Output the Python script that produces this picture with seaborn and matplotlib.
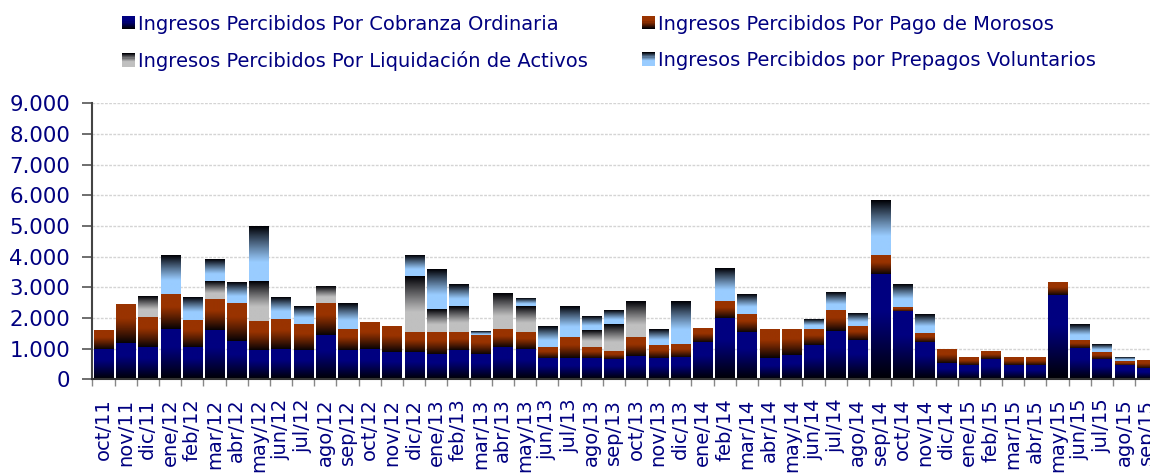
import numpy as np
import pandas as pd
import seaborn as sns
import matplotlib
matplotlib.use("Agg")
import matplotlib.pyplot as plt
from matplotlib.patches import Patch, Rectangle
from matplotlib.legend_handler import HandlerBase
from matplotlib.colors import to_rgb

# Months (Spanish abbreviations)
meses = ['oct/11', 'nov/11', 'dic/11',
         'ene/12', 'feb/12', 'mar/12', 'abr/12', 'may/12', 'jun/12', 'jul/12', 'ago/12', 'sep/12', 'oct/12', 'nov/12', 'dic/12',
         'ene/13', 'feb/13', 'mar/13', 'abr/13', 'may/13', 'jun/13', 'jul/13', 'ago/13', 'sep/13', 'oct/13', 'nov/13', 'dic/13',
         'ene/14', 'feb/14', 'mar/14', 'abr/14', 'may/14', 'jun/14', 'jul/14', 'ago/14', 'sep/14', 'oct/14', 'nov/14', 'dic/14',
         'ene/15', 'feb/15', 'mar/15', 'abr/15', 'may/15', 'jun/15', 'jul/15', 'ago/15', 'sep/15']

# Series values
cobranza = [957, 1152, 1033,
            1620, 1033, 1576, 1217, 924, 957, 924, 1413, 924, 957, 859, 859,
            793, 924, 793, 1033, 957, 663, 663, 663, 630, 728, 663, 696,
            1185, 1967, 1511, 663, 761, 1087, 1543, 1250, 3402, 2196, 1185, 500,
            435, 630, 435, 435, 2717, 989, 630, 435, 337]
morosos = [652, 1272, 1000,
           1163, 902, 1011, 1240, 978, 1010, 880, 1076, 685, 913, 880, 684,
           718, 619, 620, 608, 586, 359, 685, 391, 261, 620, 424, 424,
           489, 555, 619, 978, 848, 554, 685, 457, 620, 163, 326, 457,
           293, 261, 293, 293, 424, 261, 229, 163, 261]
liquidacion = [0, 0, 684,
               0, 0, 587, 0, 1272, 0, 0, 522, 0, 0, 0, 1794,
               782, 816, 0, 1142, 816, 0, 0, 522, 881, 1174, 0, 0,
               0, 0, 0, 0, 0, 0, 0, 0, 0, 0, 0, 0,
               0, 0, 0, 0, 0, 0, 0, 0, 0]
prepagos = [0, 0, 0,
            1271, 750, 750, 717, 1826, 685, 555, 0, 880, 0, 0, 717,
            1272, 750, 163, 0, 293, 717, 1011, 457, 489, 0, 522, 1434,
            0, 1108, 620, 0, 0, 326, 587, 456, 1826, 750, 587, 0,
            0, 0, 0, 0, 0, 554, 293, 130, 0]

series_names = ['Ingresos Percibidos Por Cobranza Ordinaria',
                'Ingresos Percibidos Por Pago de Morosos',
                'Ingresos Percibidos Por Liquidación de Activos',
                'Ingresos Percibidos por Prepagos Voluntarios']
series_values = [cobranza, morosos, liquidacion, prepagos]
# (bright colour, dark end on top?)
series_style = [('#000080', False), ('#993300', False), ('#C0C0C0', True), ('#99CCFF', True)]

text_color = '#000080'


def gradient(bright, dark_top, n=64):
    # t = 0 at bright end; solid for a while then fade to black
    b = np.array(to_rgb(bright))
    t = np.linspace(0, 1, n)
    f = np.clip((t - 0.35) / 0.65, 0, 1) ** 1.1
    cols = b[None, :] * (1 - f[:, None]) + np.array([0.0, 0.0, 0.02])[None, :] * f[:, None]
    if dark_top:
        cols = cols[::-1]      # top row dark
    return cols[:, None, :]    # otherwise top row = bright


sns.set_style("white")
fig = plt.figure(figsize=(11.5, 4.73), dpi=100)
ax = fig.add_axes([92.4 / 1150, 1 - 379.3 / 473, 1065.0 / 1150, 276.0 / 473])

df = pd.DataFrame({'mes': meses})
cum = np.zeros(len(meses))
cums = []
for vals in series_values:
    lower = cum.copy()
    cum = cum + np.array(vals, dtype=float)
    cums.append((lower, cum.copy()))

# draw cumulative bars from top series down so positions come from seaborn
bar_patches = {}
for i in range(len(series_values) - 1, -1, -1):
    before = len(ax.patches)
    df['total'] = cums[i][1]
    sns.barplot(data=df, x='mes', y='total', color=series_style[i][0], width=0.86,
                ax=ax, errorbar=None, linewidth=0)
    bar_patches[i] = ax.patches[before:]

for i, patches in bar_patches.items():
    bright, dark_top = series_style[i]
    img = gradient(bright, dark_top)
    lower, upper = cums[i]
    for j, p in enumerate(patches):
        p.set_alpha(0)
        if upper[j] - lower[j] <= 0:
            continue
        x0 = p.get_x()
        w = p.get_width()
        ax.imshow(img, extent=(x0, x0 + w, lower[j], upper[j]), aspect='auto',
                  interpolation='bilinear', origin='upper', zorder=2)

ax.set_xlim(-0.5, len(meses) - 0.5)
ax.set_ylim(0, 9000)
ax.set_xlabel('')
ax.set_ylabel('')

# axes styling
yt = np.arange(0, 9001, 1000)
ax.set_yticks(yt)
ax.set_yticklabels([f"{int(v):,}".replace(',', '.') for v in yt], fontsize=15.3, color=text_color)
ax.tick_params(axis='y', length=7, width=1.2, color='#555555', pad=9, left=True)
ax.set_xticks(range(len(meses)))
ax.set_xticklabels(meses, rotation=90, fontsize=14, color=text_color)
ax.tick_params(axis='x', which='major', length=0, pad=14)
ax.set_xticks(np.arange(-0.5, len(meses), 1), minor=True)
ax.tick_params(axis='x', which='minor', length=5, width=1, color='#888888', bottom=True)

for v in yt[1:]:
    ax.axhline(v, color='#d4d4d4', linestyle=(0, (2, 1)), linewidth=1.0, zorder=0)

sns.despine(ax=ax, top=True, right=True)
ax.spines['left'].set_color('#444444')
ax.spines['left'].set_linewidth(1.5)
ax.spines['bottom'].set_color('#333333')
ax.spines['bottom'].set_linewidth(1.5)
ax.spines['bottom'].set_zorder(3)


class GradientHandler(HandlerBase):
    def __init__(self, bright, dark_top):
        super().__init__()
        self.cols = gradient(bright, dark_top, n=12)[:, 0, :]

    def create_artists(self, legend, orig_handle, xdescent, ydescent, width, height, fontsize, trans):
        n = len(self.cols)
        x = -xdescent
        y0 = -ydescent
        arts = []
        for k, c in enumerate(self.cols):
            # row 0 is top
            yy = y0 + height - (k + 1) * height / n
            arts.append(Rectangle((x, yy), width, height / n + 0.2, facecolor=c,
                                  edgecolor='none', transform=trans))
        return arts


handles = [Patch(label=n) for n in series_names]
hmap = {h: GradientHandler(*series_style[k]) for k, h in enumerate(handles)}
order = [0, 2, 1, 3]
leg = fig.legend([handles[k] for k in order], [series_names[k] for k in order],
                 handler_map=hmap, ncol=2, loc='upper left', bbox_to_anchor=(108 / 1150, 1 - 1 / 473),
                 frameon=False, fontsize=14, labelcolor=text_color, handlelength=0.67,
                 handleheight=0.67, handletextpad=0.18, columnspacing=2.76, labelspacing=0.88,
                 borderpad=0.2)

fig.savefig('out.png', dpi=100)
